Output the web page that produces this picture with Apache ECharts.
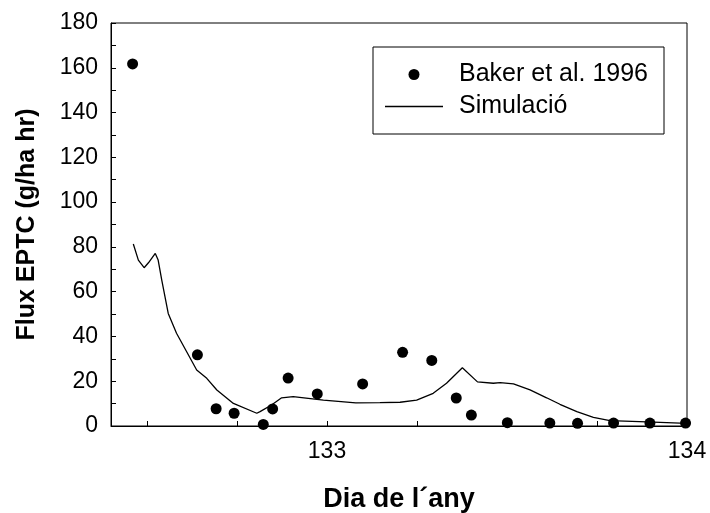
<!DOCTYPE html>
<html>
<head>
<meta charset="utf-8">
<script src="https://cdn.jsdelivr.net/npm/echarts@6/dist/echarts.min.js"></script>
<style>html,body{margin:0;padding:0;background:#fff}#c{width:710px;height:513px}</style>
</head>
<body>
<div id="c"></div>
<script>
var obsX = [132.46, 132.64, 132.692, 132.742, 132.823, 132.849, 132.892, 132.973, 133.099, 133.21, 133.291, 133.359, 133.401, 133.501, 133.619, 133.696, 133.796, 133.897, 133.996];
var obsY = [161.7, 31.8, 7.7, 5.7, 0.7, 7.6, 21.4, 14.3, 18.8, 32.9, 29.3, 12.5, 4.9, 1.5, 1.3, 1.2, 1.3, 1.3, 1.3];
var simX = [132.462, 132.476, 132.492, 132.504, 132.523, 132.531, 132.541, 132.559, 132.582, 132.638, 132.666, 132.694, 132.74, 132.805, 132.814, 132.846, 132.874, 132.906, 132.99, 133.08, 133.147, 133.203, 133.249, 133.295, 133.332, 133.376, 133.418, 133.462, 133.481, 133.518, 133.564, 133.61, 133.647, 133.694, 133.74, 133.786, 133.888, 133.999];
var simY = [81.3, 74.1, 70.7, 72.9, 77.1, 74.1, 65.2, 50.3, 41.4, 25.0, 21.3, 16.1, 10.1, 5.7, 6.4, 9.4, 12.6, 13.1, 11.6, 10.3, 10.4, 10.6, 11.6, 14.6, 19.1, 26.0, 19.7, 19.1, 19.4, 18.8, 16.1, 12.6, 9.7, 6.4, 3.9, 2.4, 1.8, 1.2];
var xTicks = [132.5, 132.75, 133, 133.25, 133.5, 133.75, 134];
var xLabels = [133, 134];
var seriesNames = ['Baker et al. 1996', 'Simulació'];

function pairs(xs, ys){ return xs.map(function(x,i){ return [x, ys[i]]; }); }

var font = 'Liberation Sans, Arial, sans-serif';
var chart = echarts.init(document.getElementById('c'), null, {renderer:'canvas'});
chart.setOption({
  animation: false,
  backgroundColor: '#fff',
  grid: {left: 111, right: 23, top: 23, bottom: 87, outerBoundsMode: 'none', containLabel: false, show: true, borderColor: '#000', borderWidth: 1, backgroundColor: 'transparent'},
  legend: {
    orient: 'vertical', left: 373, top: 47,
    padding: [15, 16, 15, 12], itemGap: 7,
    borderColor: '#000', borderWidth: 1,
    itemWidth: 58, itemHeight: 11, symbolKeepAspect: true,
    textStyle: {fontFamily: font, fontSize: 25, lineHeight: 22, color: '#000', padding: [0,0,0,11]},
    data: [
      {name: seriesNames[0], icon: 'circle'},
      {name: seriesNames[1], icon: 'path://M0,0 L58,0 L58,1.4 L0,1.4 Z'}
    ]
  },
  xAxis: {
    type: 'value', min: 132.4, max: 134,
    name: 'Dia de l´any', nameLocation: 'middle', nameGap: 60,
    nameTextStyle: {fontFamily: font, fontSize: 27, fontWeight: 'bold', color: '#000'},
    axisLine: {lineStyle: {color: '#000', width: 1}},
    axisTick: {inside: true, length: 5, customValues: xTicks, lineStyle: {color: '#000'}},
    axisLabel: {customValues: xLabels, fontFamily: font, fontSize: 23, color: '#000', margin: 14},
    splitLine: {show: false}
  },
  yAxis: {
    type: 'value', min: 0, max: 180, interval: 20,
    name: 'Flux EPTC (g/ha hr)', nameLocation: 'middle', nameGap: 71,
    nameTextStyle: {fontFamily: font, fontSize: 25, fontWeight: 'bold', color: '#000'},
    axisLine: {lineStyle: {color: '#000', width: 1}},
    axisTick: {inside: true, length: 5, lineStyle: {color: '#000'}},
    minorTick: {show: true, splitNumber: 2, length: 5, lineStyle: {color: '#000'}},
    axisLabel: {fontFamily: font, fontSize: 23, color: '#000', margin: 13},
    splitLine: {show: false}
  },
  series: [
    {name: seriesNames[0], type: 'scatter', data: pairs(obsX, obsY), symbolSize: 11, itemStyle: {color: '#000', opacity: 1}},
    {name: seriesNames[1], type: 'line', data: pairs(simX, simY), showSymbol: false, symbol: 'none', lineStyle: {color: '#000', width: 1.3}, itemStyle: {color: '#000'}}
  ]
});
</script>
</body>
</html>
